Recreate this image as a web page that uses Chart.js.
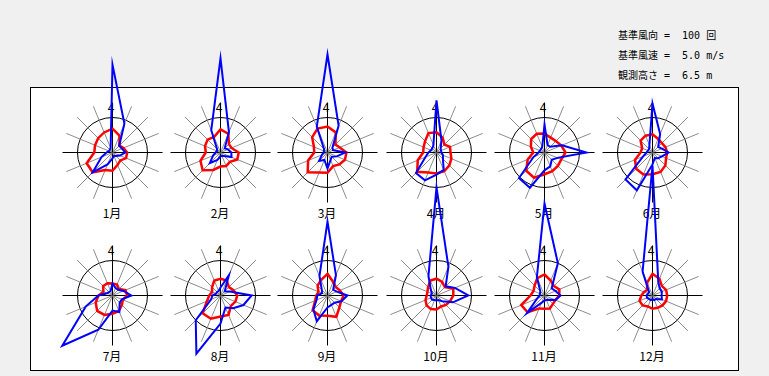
<!DOCTYPE html>
<html>
<head>
<meta charset="utf-8">
<script src="https://cdn.jsdelivr.net/npm/chart.js"></script>
<style>
  body { margin: 0; background: #f0f0f0; font-family: "Noto Sans CJK JP", sans-serif; font-size: 12px; color: #000; }
  #stage { position: relative; width: 769px; height: 376px; overflow: hidden; }
  #panel { position: absolute; left: 30px; top: 87px; width: 707px; height: 282px; background: #fff; border: 1px solid #000; }
  .note { position: absolute; left: 618px; white-space: pre; line-height: 14px; font-family: "DejaVu Sans Mono", "Noto Sans CJK JP", monospace; font-size: 10px; }
  .lbl { position: absolute; width: 40px; text-align: center; line-height: 14px; }
  canvas { position: absolute; }
</style>
</head>
<body>
<div id="stage">
  <div class="note" style="top:29px">基準風向 =  100 回</div>
  <div class="note" style="top:49px">基準風速 =  5.0 m/s</div>
  <div class="note" style="top:69px">観測高さ =  6.5 m</div>
  <div id="panel"></div>
</div>
<script>
const months = ["1月", "2月", "3月", "4月", "5月", "6月", "7月", "8月", "9月", "10月", "11月", "12月"];
const directions = ["N", "NNE", "NE", "ENE", "E", "ESE", "SE", "SSE", "S", "SSW", "SW", "WSW", "W", "WNW", "NW", "NNW"];
const refCount = 100;   // 基準風向 (回)
const refSpeed = 5.0;   // 基準風速 (m/s)
const scaleLabel = "4";

// 風向出現回数 (回), N から時計回り
const freqCount = [
  [251, 89, 27, 29, 37, 23, 14, 11, 17, 37, 80, 34, 17, 11, 11, 14],
  [269, 63, 17, 23, 31, 34, 14, 11, 11, 23, 43, 23, 14, 11, 14, 69],
  [280, 83, 20, 17, 51, 29, 17, 23, 46, 23, 34, 17, 11, 11, 14, 80],
  [149, 37, 17, 14, 14, 20, 26, 54, 63, 86, 83, 34, 23, 17, 17, 23],
  [80, 23, 23, 54, 120, 40, 29, 43, 51, 109, 103, 34, 17, 14, 14, 17],
  [140, 57, 23, 29, 46, 29, 23, 17, 34, 117, 109, 29, 17, 14, 14, 23],
  [34, 23, 23, 34, 54, 29, 29, 51, 43, 106, 203, 83, 40, 17, 14, 14],
  [23, 63, 17, 29, 89, 71, 51, 37, 80, 180, 100, 29, 23, 14, 14, 14],
  [211, 63, 23, 29, 57, 43, 29, 29, 34, 80, 57, 34, 29, 17, 23, 60],
  [309, 89, 37, 57, 91, 51, 23, 14, 14, 14, 17, 17, 17, 14, 23, 60],
  [263, 100, 29, 34, 46, 34, 17, 14, 14, 23, 71, 23, 14, 14, 17, 57],
  [371, 43, 29, 29, 26, 29, 14, 14, 11, 14, 14, 17, 17, 14, 14, 74]
];

// 風向別平均風速 (m/s)
const meanSpeed = [
  [3.4, 2.6, 1.4, 1.7, 2.1, 2.1, 1.6, 1.9, 2.6, 2.7, 4.0, 4.0, 2.6, 2.7, 2.9, 3.1],
  [3.3, 2.9, 1.7, 1.7, 2.6, 2.6, 1.9, 2.1, 2.0, 2.7, 3.6, 3.1, 2.1, 2.4, 2.6, 2.4],
  [3.7, 3.1, 1.6, 1.9, 2.7, 2.7, 2.4, 2.1, 2.9, 3.1, 4.0, 3.0, 1.9, 2.1, 3.1, 3.7],
  [2.9, 2.3, 1.6, 2.1, 2.0, 2.3, 2.6, 2.9, 3.0, 3.1, 3.9, 2.9, 1.9, 2.0, 2.3, 3.0],
  [2.7, 2.3, 2.3, 2.6, 3.0, 2.6, 2.7, 2.9, 3.1, 3.9, 3.7, 2.6, 1.6, 2.1, 2.7, 2.9],
  [2.6, 2.1, 1.9, 2.0, 2.1, 2.1, 2.6, 3.0, 3.1, 3.4, 3.3, 2.7, 1.7, 1.6, 2.4, 2.6],
  [1.7, 1.7, 1.3, 2.0, 2.1, 1.6, 1.9, 2.4, 2.6, 3.0, 3.1, 2.6, 2.0, 1.4, 1.9, 1.9],
  [2.4, 2.3, 1.7, 2.0, 2.4, 2.3, 2.1, 3.0, 3.0, 3.6, 3.6, 2.1, 1.6, 1.3, 1.7, 2.3],
  [3.1, 2.1, 1.7, 1.9, 2.3, 2.1, 2.4, 3.3, 2.9, 3.1, 3.0, 1.9, 1.6, 1.4, 2.0, 2.4],
  [2.4, 2.1, 1.7, 2.6, 2.4, 2.1, 1.9, 1.7, 2.0, 2.1, 2.0, 1.7, 1.4, 1.4, 1.7, 2.3],
  [3.0, 2.3, 1.9, 2.3, 2.1, 1.7, 1.7, 2.0, 1.9, 2.0, 3.4, 3.6, 2.0, 1.7, 2.0, 2.7],
  [3.1, 2.6, 1.9, 2.1, 2.1, 2.1, 2.0, 1.9, 1.9, 1.7, 2.0, 2.0, 1.6, 1.3, 1.1, 2.0]
];

// layout of the 6 x 2 grid (rose centres, px)
const colX = [112, 220, 327, 436, 544, 652];
const rowY = [152, 295];
const canvasSize = 300;
const ringRadius = 35;   // 基準円
const spokeRadius = 50;  // 方位線の長さ

const stage = document.getElementById("stage");

// half-pixel shift so 1px lines are crisp
const crisp = {
  id: "crisp",
  beforeDraw(c) { c.ctx.save(); c.ctx.translate(0.5, 0.5); },
  afterDraw(c) { c.ctx.restore(); }
};

function addLabel(text, x, y) {
  const d = document.createElement("div");
  d.className = "lbl";
  d.textContent = text;
  d.style.left = (x - 20) + "px";
  d.style.top = (y - 7) + "px";
  stage.appendChild(d);
}

months.forEach((m, i) => {
  const cx = colX[i % 6];
  const cy = rowY[Math.floor(i / 6)];
  addLabel(m, cx, cy + 61);
  addLabel(scaleLabel, cx - 1, cy - 45);
});

months.forEach((m, i) => {
  const cx = colX[i % 6];
  const cy = rowY[Math.floor(i / 6)];
  const cv = document.createElement("canvas");
  cv.width = canvasSize;
  cv.height = canvasSize;
  cv.style.left = (cx - canvasSize / 2) + "px";
  cv.style.top = (cy - canvasSize / 2) + "px";
  stage.appendChild(cv);

  new Chart(cv, {
    type: "radar",
    data: {
      labels: directions,
      datasets: [
        {
          label: "風向出現回数",
          data: freqCount[i],
          borderColor: "#0000ff",
          borderWidth: 2,
          fill: false,
          pointRadius: 0,
          tension: 0,
          clip: false
        },
        {
          label: "平均風速",
          data: meanSpeed[i].map((v) => v * refCount / refSpeed),
          borderColor: "#ff0000",
          borderWidth: 2.5,
          fill: false,
          pointRadius: 0,
          tension: 0,
          clip: false
        }
      ]
    },
    options: {
      responsive: false,
      animation: false,
      layout: { padding: canvasSize / 2 - spokeRadius },
      plugins: { legend: { display: false }, tooltip: { enabled: false } },
      scales: {
        r: {
          min: 0,
          max: refCount * spokeRadius / ringRadius,
          ticks: { display: false, stepSize: refCount },
          pointLabels: { display: false },
          grid: {
            circular: true,
            color: (c) => (c.tick && c.tick.value === refCount ? "#000" : "rgba(0,0,0,0)"),
            lineWidth: 1
          },
          angleLines: {
            color: (c) => (c.index % 4 === 0 ? "#000" : "#8c8c8c"),
            lineWidth: 1
          }
        }
      }
    },
    plugins: [crisp]
  });
});
</script>
</body>
</html>
